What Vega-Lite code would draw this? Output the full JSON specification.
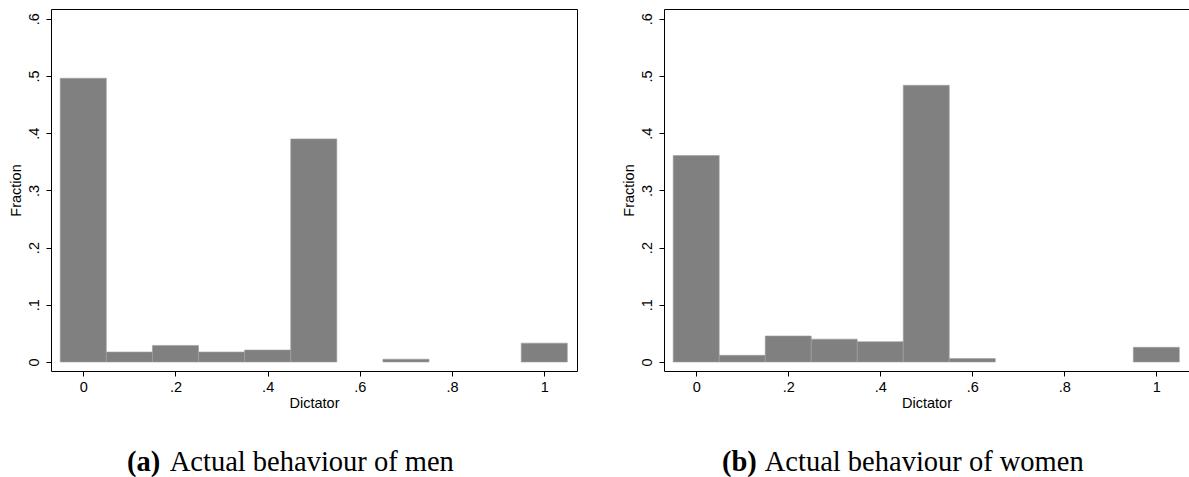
{
  "$schema": "https://vega.github.io/schema/vega-lite/v6.json",
  "padding": {"left": 7, "top": 8, "right": 0, "bottom": 0},
  "background": "white",
  "spacing": 42,
  "datasets": {
    "hist": [
      {"group": "men", "bin_start": -0.05, "bin_end": 0.05, "fraction": 0.496},
      {"group": "men", "bin_start": 0.05, "bin_end": 0.15, "fraction": 0.0175},
      {"group": "men", "bin_start": 0.15, "bin_end": 0.25, "fraction": 0.029},
      {"group": "men", "bin_start": 0.25, "bin_end": 0.35, "fraction": 0.0175},
      {"group": "men", "bin_start": 0.35, "bin_end": 0.45, "fraction": 0.021},
      {"group": "men", "bin_start": 0.45, "bin_end": 0.55, "fraction": 0.39},
      {"group": "men", "bin_start": 0.65, "bin_end": 0.75, "fraction": 0.005},
      {"group": "men", "bin_start": 0.95, "bin_end": 1.05, "fraction": 0.033},
      {"group": "women", "bin_start": -0.05, "bin_end": 0.05, "fraction": 0.361},
      {"group": "women", "bin_start": 0.05, "bin_end": 0.15, "fraction": 0.0117},
      {"group": "women", "bin_start": 0.15, "bin_end": 0.25, "fraction": 0.0455},
      {"group": "women", "bin_start": 0.25, "bin_end": 0.35, "fraction": 0.04},
      {"group": "women", "bin_start": 0.35, "bin_end": 0.45, "fraction": 0.0355},
      {"group": "women", "bin_start": 0.45, "bin_end": 0.55, "fraction": 0.4837},
      {"group": "women", "bin_start": 0.55, "bin_end": 0.65, "fraction": 0.006},
      {"group": "women", "bin_start": 0.95, "bin_end": 1.05, "fraction": 0.0257}
    ]
  },
  "config": {
    "view": {"stroke": "black", "strokeWidth": 1},
    "axis": {
      "domain": false,
      "grid": false,
      "tickColor": "black",
      "tickSize": 5,
      "tickWidth": 1,
      "labelFont": "Liberation Sans",
      "labelFontSize": 14.5,
      "labelColor": "black",
      "titleFont": "Liberation Sans",
      "titleFontSize": 14.5,
      "titleFontWeight": "normal",
      "titleColor": "black"
    },
    "axisX": {"labelPadding": 4, "titlePadding": 3},
    "axisY": {"labelAngle": 270, "labelPadding": 5, "titlePadding": 3},
    "title": {
      "orient": "bottom",
      "anchor": "start",
      "frame": "group",
      "align": "left",
      "font": "Liberation Serif",
      "fontSize": 28.5,
      "fontWeight": "bold",
      "color": "black",
      "subtitleFont": "Liberation Serif",
      "subtitleFontSize": 28.5,
      "subtitleFontWeight": "normal",
      "subtitleColor": "black",
      "subtitlePadding": -28.5,
      "offset": 38
    }
  },
  "hconcat": [
    {
      "width": 526,
      "height": 362,
      "data": {"name": "hist"},
      "transform": [{"filter": "datum.group == 'men'"}],
      "title": {"text": "(a)", "subtitle": "\u200b\u00a0\u00a0\u00a0\u00a0\u00a0\u00a0Actual behaviour of men", "dx": 76},
      "mark": {"type": "bar", "fill": "#808080", "stroke": "#a0a0a0", "strokeWidth": 0.6},
      "encoding": {
        "x": {
          "field": "bin_start", "type": "quantitative",
          "scale": {"domain": [-0.07, 1.071], "nice": false, "zero": false},
          "title": "Dictator",
          "axis": {"values": [0, 0.2, 0.4, 0.6, 0.8, 1], "labelExpr": "datum.value == 0 ? '0' : datum.value == 1 ? '1' : replace(format(datum.value, '.1f'), '0.', '.')"}
        },
        "x2": {"field": "bin_end"},
        "y": {
          "field": "fraction", "type": "quantitative",
          "scale": {"domain": [-0.0157, 0.617], "nice": false, "zero": false},
          "title": "Fraction",
          "axis": {"values": [0, 0.1, 0.2, 0.3, 0.4, 0.5, 0.6], "labelExpr": "datum.value == 0 ? '0' : replace(format(datum.value, '.1f'), '0.', '.')"}
        },
        "y2": {"datum": 0}
      }
    },
    {
      "width": 525,
      "height": 362,
      "data": {"name": "hist"},
      "transform": [{"filter": "datum.group == 'women'"}],
      "title": {"text": "(b)", "subtitle": "\u200b\u00a0\u00a0\u00a0\u00a0\u00a0\u00a0Actual behaviour of women", "dx": 58},
      "mark": {"type": "bar", "fill": "#808080", "stroke": "#a0a0a0", "strokeWidth": 0.6},
      "encoding": {
        "x": {
          "field": "bin_start", "type": "quantitative",
          "scale": {"domain": [-0.07, 1.071], "nice": false, "zero": false},
          "title": "Dictator",
          "axis": {"values": [0, 0.2, 0.4, 0.6, 0.8, 1], "labelExpr": "datum.value == 0 ? '0' : datum.value == 1 ? '1' : replace(format(datum.value, '.1f'), '0.', '.')"}
        },
        "x2": {"field": "bin_end"},
        "y": {
          "field": "fraction", "type": "quantitative",
          "scale": {"domain": [-0.0157, 0.617], "nice": false, "zero": false},
          "title": "Fraction",
          "axis": {"values": [0, 0.1, 0.2, 0.3, 0.4, 0.5, 0.6], "labelExpr": "datum.value == 0 ? '0' : replace(format(datum.value, '.1f'), '0.', '.')"}
        },
        "y2": {"datum": 0}
      }
    }
  ]
}
